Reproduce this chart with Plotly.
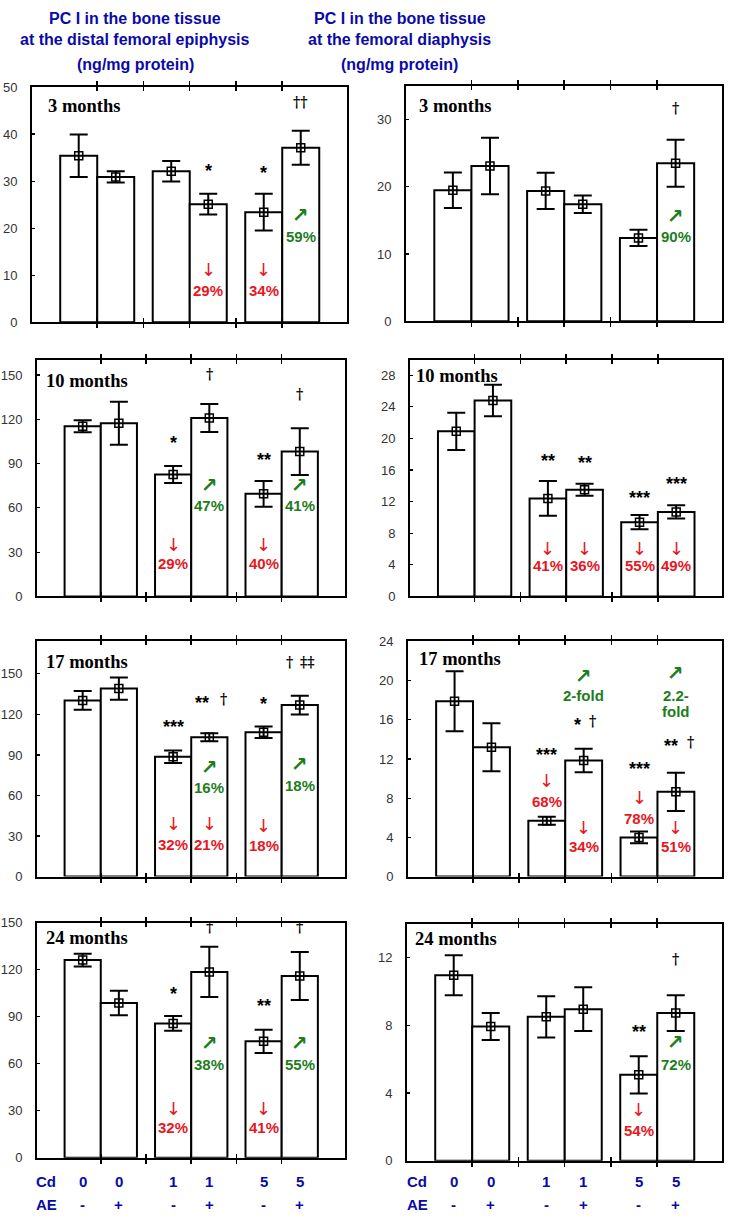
import plotly.graph_objects as go

# ---------------- data ----------------
x_pos = [0.6, 1.4, 2.6, 3.4, 4.6, 5.4]
tick_pos = [1, 2, 3, 4, 5]
cd_labels = ["0", "0", "1", "1", "5", "5"]
ae_labels = ["-", "+", "-", "+", "-", "+"]
month_labels = ["3 months", "10 months", "17 months", "24 months"]

# distal femoral epiphysis (ng/mg protein)
epi_3m = [35.4, 30.9, 32.1, 25.1, 23.4, 37.1]
epi_3m_err = [4.5, 1.2, 2.2, 2.2, 3.9, 3.6]
epi_10m = [115.3, 117.3, 82.6, 120.9, 69.5, 98.1]
epi_10m_err = [4.0, 14.6, 5.7, 9.5, 8.7, 15.8]
epi_17m = [130.4, 139.1, 88.7, 103.1, 106.8, 126.9]
epi_17m_err = [7.0, 8.3, 4.7, 3.0, 4.3, 7.0]
epi_24m = [126.1, 98.7, 85.7, 118.6, 74.3, 116.0]
epi_24m_err = [4.0, 7.8, 4.7, 16.0, 7.4, 15.3]

# femoral diaphysis (ng/mg protein)
dia_3m = [19.5, 23.1, 19.4, 17.4, 12.4, 23.5]
dia_3m_err = [2.65, 4.2, 2.7, 1.3, 1.2, 3.5]
dia_10m = [20.9, 24.8, 12.4, 13.5, 9.4, 10.7]
dia_10m_err = [2.35, 2.0, 2.2, 0.75, 0.9, 0.85]
dia_17m = [17.9, 13.2, 5.7, 11.85, 4.0, 8.65]
dia_17m_err = [3.07, 2.45, 0.4, 1.2, 0.6, 1.95]
dia_24m = [10.96, 7.93, 8.5, 8.95, 5.08, 8.72]
dia_24m_err = [1.18, 0.8, 1.22, 1.29, 1.1, 1.06]

# annotation texts: (bar index, text, y value, style[, x shift px])
ann_epi_3m = [(3, "*", 33.1, "star"), (4, "*", 32.6, "star"), (5, "††", 46.8, "dag"),
              (3, "↓", 11.2, "rarr"), (3, "29%", 6.8, "red"),
              (4, "↓", 11.2, "rarr"), (4, "34%", 6.8, "red"),
              (5, "↗", 22.8, "garr"), (5, "59%", 18.2, "green")]
ann_epi_10m = [(2, "*", 106.5, "star"), (3, "†", 151, "dag"), (4, "**", 95.2, "star"),
               (5, "†", 136.9, "dag"),
               (3, "↗", 75.3, "garr"), (3, "47%", 61.4, "green"),
               (5, "↗", 75.3, "garr"), (5, "41%", 61.4, "green"),
               (2, "↓", 35.4, "rarr"), (2, "29%", 22.6, "red"),
               (4, "↓", 35.4, "rarr"), (4, "40%", 22.6, "red")]
ann_epi_17m = [(2, "***", 114, "star"), (3, "**", 131.4, "star", -7), (3, "†", 131.4, "dag", 14),
               (4, "*", 130.4, "star"), (5, "†", 158.7, "dag", -10), (5, "‡‡", 158.7, "dag", 8),
               (3, "↗", 81.2, "garr"), (3, "16%", 66.3, "green"),
               (5, "↗", 83.2, "garr"), (5, "18%", 67.5, "green"),
               (2, "↓", 39, "rarr"), (2, "32%", 24.1, "red"),
               (3, "↓", 39, "rarr"), (3, "21%", 24.1, "red"),
               (4, "↓", 37.8, "rarr"), (4, "18%", 22.8, "red")]
ann_epi_24m = [(2, "*", 107.2, "star"), (4, "**", 99.7, "star"),
               (3, "†", 147.5, "dag"), (5, "†", 147.5, "dag"),
               (3, "↗", 73.2, "garr"), (3, "38%", 59.4, "green"),
               (5, "↗", 73.2, "garr"), (5, "55%", 59.4, "green"),
               (2, "↓", 31.2, "rarr"), (2, "32%", 19.1, "red"),
               (4, "↓", 31.2, "rarr"), (4, "41%", 19.1, "red")]
ann_dia_3m = [(5, "†", 31.7, "dag"), (5, "↗", 15.7, "garr"), (5, "90%", 12.6, "green")]
ann_dia_10m = [(2, "**", 17.7, "star"), (3, "**", 17.4, "star"),
               (4, "***", 13.0, "star"), (5, "***", 14.7, "star"),
               (2, "↓", 6.1, "rarr"), (2, "41%", 3.9, "red"),
               (3, "↓", 6.1, "rarr"), (3, "36%", 3.9, "red"),
               (4, "↓", 6.1, "rarr"), (4, "55%", 3.9, "red"),
               (5, "↓", 6.1, "rarr"), (5, "49%", 3.9, "red")]
ann_dia_17m = [(2, "***", 12.8, "star"), (2, "↓", 9.8, "rarr"), (2, "68%", 7.65, "red"),
               (3, "↗", 20.5, "garr"), (3, "2-fold", 18.5, "green"),
               (3, "*", 15.85, "star", -6), (3, "†", 15.85, "dag", 9),
               (3, "↓", 5.0, "rarr"), (3, "34%", 3.06, "red"),
               (4, "***", 11.36, "star"), (4, "↓", 8.06, "rarr"), (4, "78%", 5.95, "red"),
               (5, "↗", 20.75, "garr"), (5, "2.2-", 18.5, "green"), (5, "fold", 16.9, "green"),
               (5, "**", 13.7, "star", -5), (5, "†", 13.7, "dag", 15),
               (5, "↓", 5.0, "rarr"), (5, "51%", 3.06, "red")]
ann_dia_24m = [(4, "**", 7.82, "star"), (5, "†", 11.94, "dag"),
               (5, "↗", 7.0, "garr"), (5, "72%", 5.7, "green"),
               (4, "↓", 3.03, "rarr"), (4, "54%", 1.8, "red")]

# ---------------- layout helpers ----------------
W, H = 733, 1220
BLUE = "#0a0aa8"
RED = "#e8161e"
GREEN = "#1d7d1d"


def py(y):
    """target vertical pixel -> figure pixel (compensates the photographed page scale)"""
    return (y - 8) / 0.987


# panel: values, errors, y range, dtick, month label, pixel box (x0, x1, ytop, ybottom), label pos, annotations
panels = [
    (epi_3m, epi_3m_err, [0, 50], 10, month_labels[0], (32, 347, 88, 323), (0.045, 0.92), ann_epi_3m),
    (dia_3m, dia_3m_err, [0, 35], 10, month_labels[0], (406, 722, 87, 322), (0.036, 0.916), ann_dia_3m),
    (epi_10m, epi_10m_err, [0, 160], 30, month_labels[1], (37, 345, 361, 597), (0.024, 0.912), ann_epi_10m),
    (dia_10m, dia_10m_err, [0, 29.9], 4, month_labels[1], (410, 722, 361, 597), (0.014, 0.933), ann_dia_10m),
    (epi_17m, epi_17m_err, [0, 174], 30, month_labels[2], (37, 345, 642, 877), (0.024, 0.914), ann_epi_17m),
    (dia_17m, dia_17m_err, [0, 24], 4, month_labels[2], (408, 722, 642, 877), (0.030, 0.926), ann_dia_17m),
    (epi_24m, epi_24m_err, [0, 150], 30, month_labels[3], (37, 345, 923, 1158), (0.024, 0.934), ann_epi_24m),
    (dia_24m, dia_24m_err, [0, 14], 4, month_labels[3], (407, 722, 924, 1161), (0.020, 0.937), ann_dia_24m),
]

styles = {
    "star": dict(font=dict(family="Liberation Sans, Arial", size=18, color="black"), yshift=-4),
    "dag": dict(font=dict(family="DejaVu Serif", size=14, color="black", weight="bold"), yshift=0),
    "rarr": dict(font=dict(family="DejaVu Sans", size=18, color=RED), yshift=0),
    "garr": dict(font=dict(family="DejaVu Sans", size=20, color=GREEN, weight="bold"), yshift=0),
    "red": dict(font=dict(family="Liberation Sans, Arial", size=15, color=RED), yshift=0),
    "green": dict(font=dict(family="Liberation Sans, Arial", size=15, color=GREEN), yshift=0),
}


def ax_id(letter, k):
    return letter if k == 1 else f"{letter}{k}"


fig = go.Figure()
annotations = []
layout_axes = {}

for k, (vals, errs, yr, dt, mlabel, box, lpos, anns) in enumerate(panels, start=1):
    x0, x1, yt, yb = box
    xs = ax_id("x", k)
    ys = ax_id("y", k)
    xo = f"x{k + 8}"
    fig.add_trace(go.Bar(
        x=x_pos, y=vals, width=0.8,
        marker=dict(color="white", line=dict(color="black", width=2)),
        xaxis=xs, yaxis=ys, showlegend=False, hoverinfo="skip"))
    fig.add_trace(go.Scatter(
        x=x_pos, y=vals, mode="markers",
        marker=dict(symbol="square-open", size=8, color="black", line=dict(width=1.5, color="black")),
        error_y=dict(type="data", array=errs, visible=True, color="black", thickness=2, width=9),
        xaxis=xs, yaxis=ys, showlegend=False, hoverinfo="skip"))
    # overlay axis to draw inward tick halves
    fig.add_trace(go.Scatter(x=[None], y=[None], xaxis=xo, yaxis=ys,
                             showlegend=False, hoverinfo="skip"))

    dom_x = [x0 / W, x1 / W]
    dom_y = [1 - py(yb) / H, 1 - py(yt) / H]
    xr = [-0.41, 6.4]
    xkey = "xaxis" if k == 1 else f"xaxis{k}"
    ykey = "yaxis" if k == 1 else f"yaxis{k}"
    layout_axes[xkey] = dict(
        domain=dom_x, range=xr, anchor=ys, tickvals=tick_pos, showticklabels=False,
        ticks="outside", ticklen=4, tickwidth=1.5, tickcolor="black",
        showline=True, linewidth=2, linecolor="black", mirror="ticks",
        showgrid=False, zeroline=False, fixedrange=True)
    layout_axes[f"xaxis{k + 8}"] = dict(
        overlaying=xs, range=xr, anchor=ys, tickvals=tick_pos, showticklabels=False,
        ticks="inside", ticklen=4, tickwidth=1.5, tickcolor="black",
        showline=False, mirror="ticks", showgrid=False, zeroline=False, fixedrange=True)
    layout_axes[ykey] = dict(
        domain=dom_y, range=yr, tick0=0, dtick=dt, anchor=xs,
        ticks="inside", ticklen=3, tickwidth=1.2, tickcolor="black",
        showline=True, linewidth=2, linecolor="black", mirror=True,
        showgrid=False, zeroline=False, ticklabelstandoff=10,
        tickfont=dict(family="Liberation Sans, Arial", size=13, color="#333333"),
        fixedrange=True)

    # month label
    annotations.append(dict(
        text=f"<b>{mlabel}</b>", xref=f"{xs} domain", yref=f"{ys} domain",
        x=lpos[0], y=lpos[1], xanchor="left", yanchor="middle", showarrow=False,
        font=dict(family="Liberation Serif, Times New Roman", size=18.5, color="black")))

    for a in anns:
        bi, txt, yv, st = a[0], a[1], a[2], a[3]
        xsh = a[4] if len(a) > 4 else 0
        s = styles[st]
        if st in ("red", "green", "star"):
            t = f"<b>{txt}</b>"
        else:
            t = txt
        annotations.append(dict(
            text=t, x=x_pos[bi], y=yv, xref=xs, yref=ys, showarrow=False,
            xanchor="center", yanchor="middle", xshift=xsh, yshift=s["yshift"],
            font=s["font"]))

# titles
title_left = ["PC I in the bone tissue", "at the distal femoral epiphysis", "(ng/mg protein)"]
title_right = ["PC I in the bone tissue", "at the femoral diaphysis", "(ng/mg protein)"]
title_rows_px = [19, 40, 65]
title_font = dict(family="Liberation Sans, Arial", size=16, color=BLUE, weight="bold")
for txt_list, cx in ((title_left, 135), (title_right, 399.5)):
    for txt, ypx in zip(txt_list, title_rows_px):
        annotations.append(dict(
            text=f"<b>{txt}</b>", xref="paper", yref="paper", x=cx / W, y=1 - py(ypx) / H,
            xanchor="center", yanchor="middle", showarrow=False, font=title_font))

# Cd / AE rows under the bottom panels
row_font = dict(family="Liberation Sans, Arial", size=15, color=BLUE)
cd_y = 1 - py(1182) / H
ae_y = 1 - py(1205) / H
for xs, cx in (("x7", 46), ("x8", 417)):
    annotations.append(dict(text="<b>Cd</b>", xref="paper", yref="paper", x=cx / W, y=cd_y,
                            xanchor="center", yanchor="middle", showarrow=False, font=row_font))
    annotations.append(dict(text="<b>AE</b>", xref="paper", yref="paper", x=cx / W, y=ae_y,
                            xanchor="center", yanchor="middle", showarrow=False, font=row_font))
    for xv, c, e in zip(x_pos, cd_labels, ae_labels):
        annotations.append(dict(text=f"<b>{c}</b>", xref=xs, yref="paper", x=xv, y=cd_y,
                                xanchor="center", yanchor="middle", showarrow=False, font=row_font))
        annotations.append(dict(text=f"<b>{e}</b>", xref=xs, yref="paper", x=xv, y=ae_y,
                                xanchor="center", yanchor="middle", showarrow=False, font=row_font))

fig.update_layout(
    width=W, height=H, margin=dict(l=0, r=0, t=0, b=0),
    paper_bgcolor="white", plot_bgcolor="white", showlegend=False,
    annotations=annotations, **layout_axes)

page_fix = (
    "document.documentElement.style.margin='0';"
    "document.documentElement.style.overflow='hidden';"
    "document.body.style.margin='0';"
    "document.body.style.overflow='hidden';"
    "var gd=document.getElementById('{plot_id}');"
    "gd.style.position='fixed';gd.style.left='0px';gd.style.top='0px';"
)
fig.write_html("out.html", config={"displayModeBar": False, "staticPlot": True},
               post_script=page_fix)
